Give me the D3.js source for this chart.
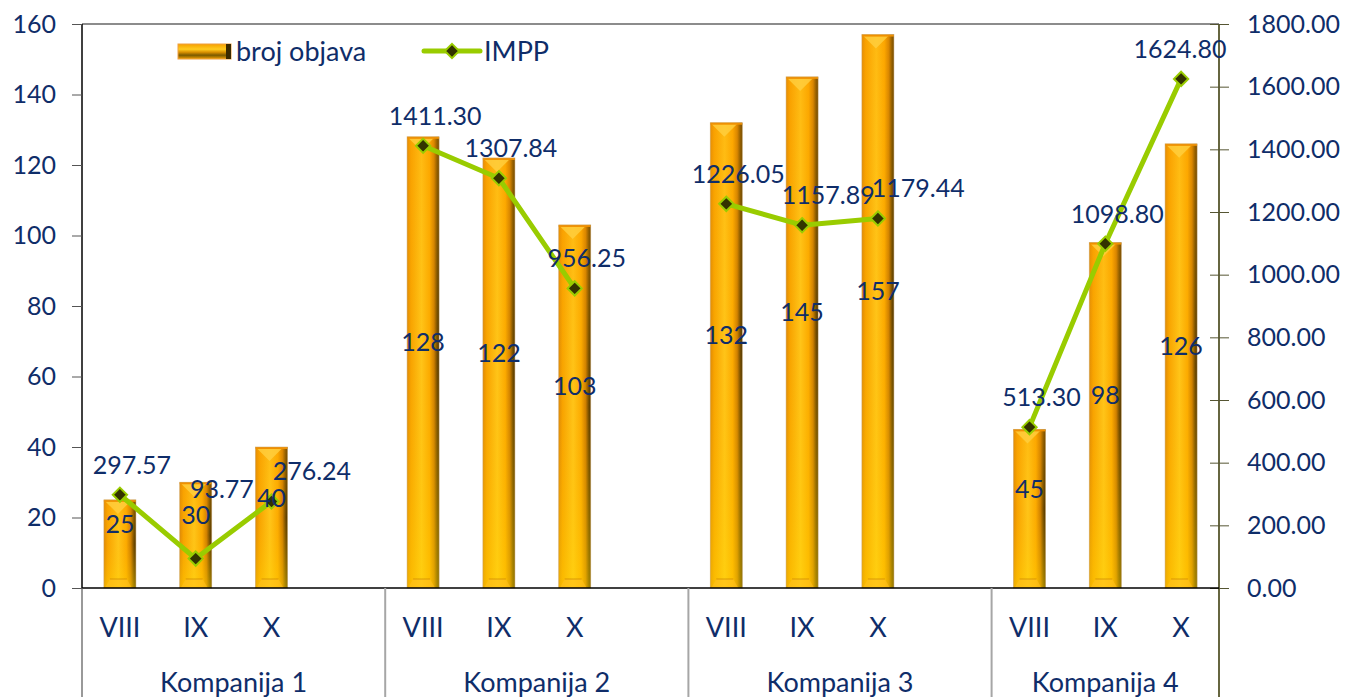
<!DOCTYPE html>
<html><head><meta charset="utf-8">
<script src="https://cdn.jsdelivr.net/npm/d3@7"></script>
<style>
html,body{margin:0;padding:0;background:#fff;}
svg text{font-family:Lato,"Open Sans",sans-serif;fill:#0f2d69;}
</style></head>
<body><svg id="c" width="1348" height="697"></svg>
<script>
const groups = ["Kompanija 1","Kompanija 2","Kompanija 3","Kompanija 4"];
const months = ["VIII","IX","X"];
const brojObjava = [25,30,40,128,122,103,132,145,157,45,98,126];
const impp = [297.57,93.77,276.24,1411.30,1307.84,956.25,1226.05,1157.89,1179.44,513.30,1098.80,1624.80];
const leftTicks = [0,20,40,60,80,100,120,140,160];
const rightTicks = [0,200,400,600,800,1000,1200,1400,1600,1800];
const seriesNames = ["broj objava","IMPP"];

const svg = d3.select("#c");
const L=82, R=1219, T=24, B=588, H=697;
const navy="#0f2d69", green="#99cc00", mark="#333300";
const numFS="25px", txtFS="27px";

const slots=[];
groups.forEach((g,gi)=>{
  months.forEach(m=>slots.push(g+"|"+m));
  if(gi<groups.length-1) slots.push(g+"|_");
});
const x=d3.scaleBand().domain(slots).range([L,R]).paddingInner(0).paddingOuter(0);
const yL=d3.scaleLinear().domain([0,160]).range([B,T]);
const yR=d3.scaleLinear().domain([0,1800]).range([B,T]);

const data=[];
groups.forEach((g,gi)=>months.forEach((m,mi)=>{
  const i=gi*3+mi;
  data.push({key:g+"|"+m,g,m,b:brojObjava[i],v:impp[i]});
}));
const px=d=>x(d.key)+x.bandwidth()/2;

const defs=svg.append("defs");
const hg=defs.append("linearGradient").attr("id","barH").attr("x1","0").attr("x2","1").attr("y1","0").attr("y2","0");
[[0,"#e08a05"],[0.12,"#f8a300"],[0.45,"#ffc418"],[0.7,"#fcaa00"],[0.84,"#d08000"],[0.93,"#7a5000"],[1,"#4a3300"]]
 .forEach(s=>hg.append("stop").attr("offset",s[0]).attr("stop-color",s[1]));
const vg=defs.append("linearGradient").attr("id","barV").attr("x1","0").attr("x2","0").attr("y1","0").attr("y2","1");
[[0,"#ff9a00",0.25],[0.5,"#ffc000",0.0],[1,"#ffe000",0.4]]
 .forEach(s=>vg.append("stop").attr("offset",s[0]).attr("stop-color",s[1]).attr("stop-opacity",s[2]));
const lg=defs.append("linearGradient").attr("id","legV").attr("x1","0").attr("x2","0").attr("y1","0").attr("y2","1");
[[0,"#f5a000"],[0.35,"#ffcc20"],[0.55,"#d99000"],[0.75,"#7a5a00"],[1,"#f0a000"]]
 .forEach(s=>lg.append("stop").attr("offset",s[0]).attr("stop-color",s[1]));

svg.append("line").attr("x1",L).attr("x2",R).attr("y1",T).attr("y2",T).attr("stroke","#8c8c8c").attr("stroke-width",2);

// bars
const bw=32;
const bars=svg.append("g");
data.forEach(d=>{
  const cx=px(d), x0=cx-bw/2, x1=cx+bw/2, y0=yL(d.b), y1=B;
  const g=bars.append("g");
  g.append("rect").attr("x",x0).attr("y",y0).attr("width",bw).attr("height",y1-y0).attr("fill","url(#barH)");
  g.append("rect").attr("x",x0).attr("y",y0).attr("width",bw).attr("height",y1-y0).attr("fill","url(#barV)");
  const bh=Math.min(12,(y1-y0)/3);
  g.append("polygon").attr("points",[[x0+1,y0+1],[x1-5,y0+1],[cx-2,y0+bh+2]].map(p=>p.join(",")).join(" "))
    .attr("fill","#ffd040").attr("opacity",0.8);
  g.append("rect").attr("x",x0).attr("y",y0).attr("width",bw).attr("height",2).attr("fill","#f09000");
  const bb=Math.min(9,(y1-y0)/3);
  g.append("polygon").attr("points",[[x0+1,y1],[x1-4,y1],[x1-9,y1-bb],[x0+6,y1-bb]].map(p=>p.join(",")).join(" "))
    .attr("fill","#ffc020").attr("opacity",0.6);
  g.append("line").attr("x1",x0+6).attr("x2",x1-9).attr("y1",y1-bb).attr("y2",y1-bb).attr("stroke","#b87000").attr("stroke-width",1).attr("opacity",0.5);
  g.append("rect").attr("x",x0).attr("y",y0).attr("width",bw).attr("height",y1-y0).attr("fill","none").attr("stroke","#c8a060").attr("stroke-width",0.8).attr("opacity",0.6);
});

// axes
const axL=svg.append("g").attr("transform",`translate(${L},0)`).call(d3.axisLeft(yL).tickValues(leftTicks).tickSize(10).tickPadding(16).tickFormat(d3.format("d")));
axL.select(".domain").attr("stroke","#000").attr("stroke-width",1.5).attr("d",`M0,${T}V${B}`);
axL.selectAll(".tick line").attr("stroke","#555");
axL.selectAll("text").style("font-size",numFS).style("font-family","Lato").attr("fill",navy);

const axR=svg.append("g").attr("transform",`translate(${R},0)`).call(d3.axisRight(yR).tickValues(rightTicks).tickSize(10).tickPadding(18).tickFormat(d3.format(".2f")));
axR.select(".domain").attr("stroke","#333300").attr("stroke-width",1.5).attr("d",`M0,${T}V${H}`);
axR.selectAll(".tick line").attr("stroke","#555533").attr("x1",-9);
axR.selectAll("text").style("font-size",numFS).style("font-family","Lato").attr("fill",navy);

// category axis
svg.append("line").attr("x1",L).attr("x2",R).attr("y1",B).attr("y2",B).attr("stroke","#000").attr("stroke-width",1.5);
svg.append("line").attr("x1",L).attr("x2",L).attr("y1",B).attr("y2",H).attr("stroke","#555").attr("stroke-width",1.2);
groups.forEach((g,gi)=>{
  const keys=slots.filter(k=>k.startsWith(g+"|"));
  const gx0=x(keys[0]), gx1=x(keys[keys.length-1])+x.bandwidth();
  if(gi<groups.length-1) svg.append("line").attr("x1",gx1).attr("x2",gx1).attr("y1",B).attr("y2",H).attr("stroke","#a6a6a6").attr("stroke-width",2);
  svg.append("text").attr("x",(gx0+gx1)/2).attr("y",692).attr("text-anchor","middle").style("font-size",txtFS).text(g);
});
data.forEach(d=>{
  svg.append("text").attr("x",px(d)).attr("y",637).attr("text-anchor","middle").style("font-size",txtFS).text(d.m);
});

// line, broken between companies
const line=d3.line().x(px).y(d=>yR(d.v));
groups.forEach(g=>{
  svg.append("path").datum(data.filter(d=>d.g===g)).attr("fill","none").attr("stroke",green).attr("stroke-width",5)
    .attr("stroke-linejoin","round").attr("d",line);
});
const sym=d3.symbol().type(d3.symbolDiamond2).size(130);
svg.selectAll(".mk").data(data).join("path").attr("class","mk").attr("transform",d=>`translate(${px(d)},${yR(d.v)})`)
  .attr("d",sym).attr("fill",mark).attr("stroke",green).attr("stroke-width",2);

// bar value labels
const barLab=data.map(d=>({d,x:px(d),y:(yL(d.b)+B)/2-20}));
svg.selectAll(".bl").data(barLab).join("text").attr("class","bl")
  .attr("x",o=>o.x).attr("y",o=>o.y+9).attr("text-anchor","middle").style("font-size",numFS).text(o=>o.d.b);

// line value labels (simple collision avoidance)
const lineLab=[];
data.forEach((d,i)=>{
  const w=86, h=26;
  let cx=px(d)+12, cy=yR(d.v)-30;
  const bl=barLab[i];
  if(Math.abs(cy-bl.y)<h) cy=bl.y-h;
  const prev=lineLab[lineLab.length-1];
  if(prev && prev.d.g===d.g && Math.abs(prev.cy-cy)<h && cx-w/2<prev.cx+w/2+4) cx=prev.cx+w+4;
  if(cx+w/2>R+4) cx=R+4-w/2;
  lineLab.push({d,cx,cy});
});
svg.selectAll(".vl").data(lineLab).join("text").attr("class","vl")
  .attr("x",o=>o.cx).attr("y",o=>o.cy+9).attr("text-anchor","middle").style("font-size",numFS).text(o=>d3.format(".2f")(o.d.v));

// legend
const lgd=svg.append("g");
lgd.append("rect").attr("x",178).attr("y",44).attr("width",53).attr("height",15).attr("fill","url(#legV)").attr("stroke","#f0a040").attr("stroke-width",1);
lgd.append("rect").attr("x",226).attr("y",44).attr("width",5).attr("height",15).attr("fill","#3a2a00");
lgd.append("text").attr("x",236).attr("y",61).style("font-size",txtFS).text(seriesNames[0]);
lgd.append("line").attr("x1",424).attr("x2",480).attr("y1",51).attr("y2",51).attr("stroke",green).attr("stroke-width",5).attr("stroke-linecap","round");
lgd.append("path").attr("transform","translate(452,51)").attr("d",sym).attr("fill",mark).attr("stroke",green).attr("stroke-width",2);
lgd.append("text").attr("x",484).attr("y",61).style("font-size",txtFS).text(seriesNames[1]);
</script></body></html>
